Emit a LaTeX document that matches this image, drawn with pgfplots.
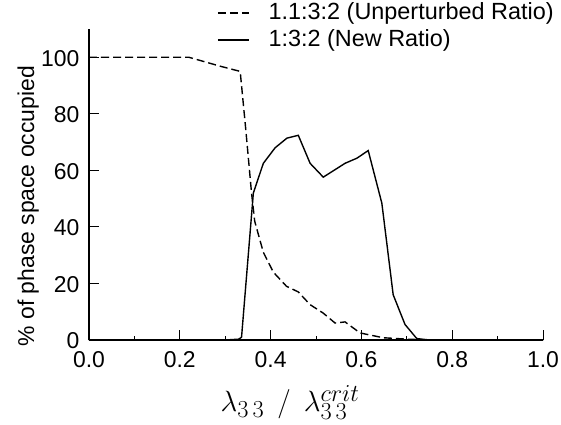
\documentclass[border=0pt]{standalone}
\usepackage{graphicx}
\usepackage{pgfplots}
\pgfplotsset{compat=1.18}
\usepackage{fontspec}
\setmainfont{Liberation Sans}
\begin{document}
\begin{tikzpicture}[x=1bp,y=1bp]
\path[use as bounding box] (-89,-84) rectangle (472,340);
\begin{axis}[
  at={(0,0)}, anchor=origin,
  scale only axis, width=454bp, height=311bp,
  xmin=0, xmax=1, ymin=0, ymax=110,
  axis x line*=bottom, axis y line*=left,
  axis line style={-, line width=1.4pt},
  xtick={0,0.2,0.4,0.6,0.8,1.0},
  minor xtick={0.1,0.3,0.5,0.7,0.9},
  ytick={0,20,40,60,80,100},
  xticklabel style={yshift=-8bp, /pgf/number format/.cd, fixed, fixed zerofill, precision=1},
  /pgf/number format/assume math mode=true,
  tick align=inside,
  major tick length=10bp, minor tick length=4bp,
  tick style={black, line width=0.9pt},
  ticklabel style={font=\fontsize{23}{26}\selectfont},
  yticklabel style={xshift=-6bp, yshift=-1bp},
  ylabel={\% of phase space occupied},
  every axis y label/.style={at={(axis description cs:-0.134,0.43)}, rotate=90, anchor=center,
    font=\fontsize{23}{26}\selectfont},
  xlabel={\scalebox{1.18}{\Huge$\lambda_{3\,3}\;\,/\;\,\lambda_{3\,3}^{crit}$}},
  every axis x label/.style={at={(axis description cs:0.443,-0.2)}, anchor=center},
  legend style={draw=none, fill=none, at={(rel axis cs:0.282,1.087)}, anchor=north west,
    font=\fontsize{23.5}{26}\selectfont, row sep=5bp, column sep=19bp, inner sep=0pt,
    nodes={inner sep=0pt, text height=17bp, text depth=5bp}},
  legend image code/.code={\draw[#1] (0bp,0bp) -- (31bp,0bp);},
  legend cell align=left,
  clip=false,
]
\addplot[black, line width=1.4pt, dash pattern=on 8bp off 4bp] coordinates {
(0,100) (0.1,100) (0.22,100) (0.29,96.8) (0.333,95) (0.345,75) (0.358,52)
(0.365,42) (0.384,31) (0.406,24) (0.435,19) (0.461,17) (0.487,12.5)
(0.516,9.5) (0.542,6) (0.564,6.4) (0.597,2.5) (0.648,0.8) (0.70,0.3)
(0.75,0) (1.0,0)};
\addlegendentry{1.1:3:2 (Unperturbed Ratio)}
\addplot[black, line width=1.4pt] coordinates {
(0,0) (0.30,0) (0.33,0.3) (0.336,1) (0.362,52) (0.384,62.5) (0.41,68)
(0.436,71.4) (0.461,72.4) (0.487,62.5) (0.516,57.6) (0.564,62.5) (0.59,64.3)
(0.615,67) (0.645,48.4) (0.67,16) (0.696,5.5) (0.722,0.5) (0.75,0) (1,0)};
\addlegendentry{1:3:2 (New Ratio)}
\end{axis}
\end{tikzpicture}
\end{document}
